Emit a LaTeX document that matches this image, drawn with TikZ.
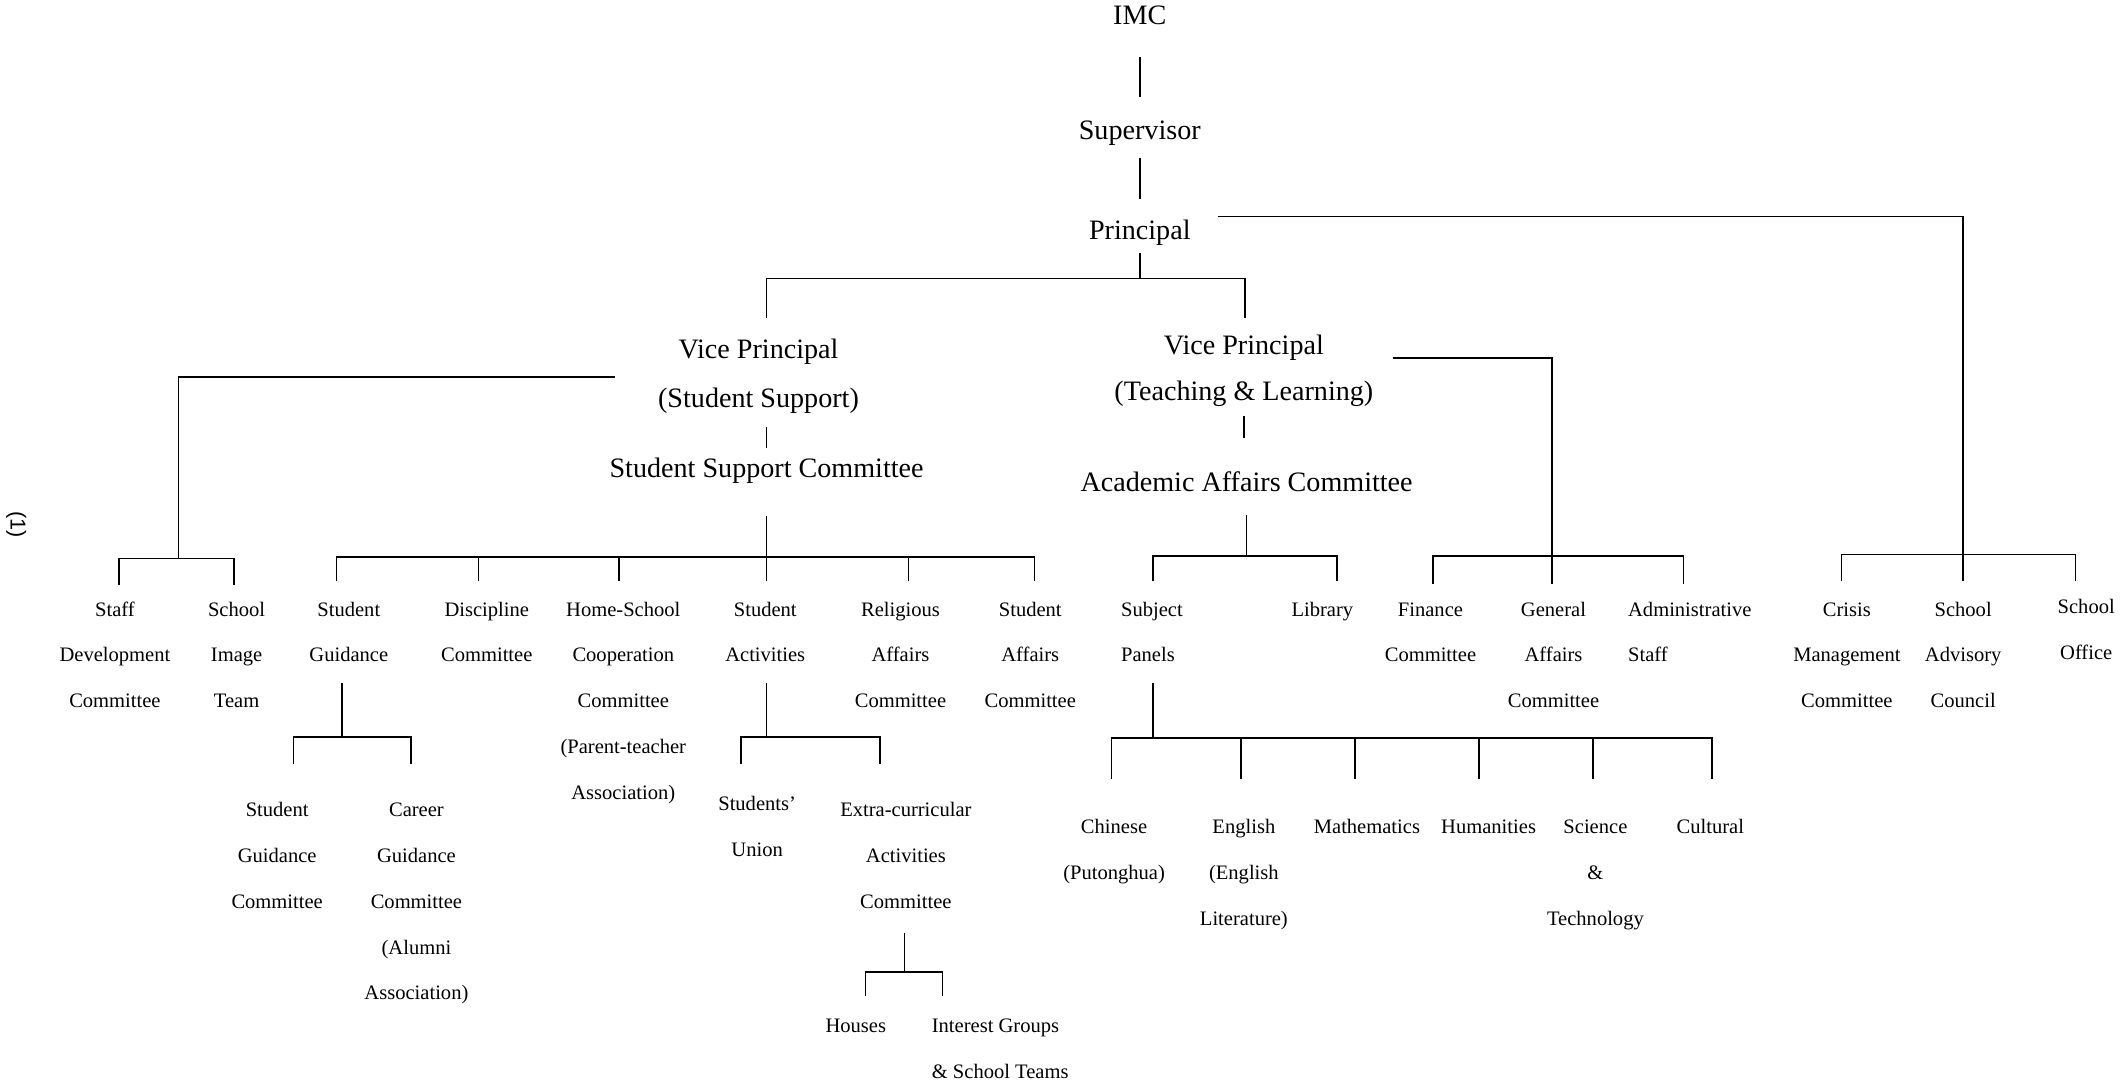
\documentclass[tikz,border=0pt]{standalone}
\usepackage{fontspec}
\setmainfont{Liberation Serif}
\newfontfamily\numfont{Liberation Sans}
\newcommand{\mlc}[1]{\begin{tabular}[t]{@{}c@{}}#1\end{tabular}}
\newcommand{\mll}[1]{\begin{tabular}[t]{@{}l@{}}#1\end{tabular}}
\tikzset{
  big/.style={font=\fontsize{20.8}{36}\selectfont, anchor=base, inner sep=0pt},
  sm/.style={font=\fontsize{15.2}{34}\selectfont, anchor=base, inner sep=0pt},
  smleft/.style={font=\fontsize{15.2}{34}\selectfont, anchor=base west, inner sep=0pt},
  conn/.style={line width=1.2pt},
}
\begin{document}
\begin{tikzpicture}[x=1pt,y=-1pt]
\path[use as bounding box] (0,0) rectangle (1568,804);
% main nodes
\node[big] (imc) at (843,18.2) {IMC};
\node[big] (sup) at (843,103.2) {Supervisor};
\node[big] (pri) at (843,177.2) {Principal};
\node[big] (vpss) at (561,265.2) {\mlc{Vice Principal\\(Student Support)}};
\node[big, font=\fontsize{20.8}{34}\selectfont] (vptl) at (920,262.2) {\mlc{Vice Principal\\(Teaching \& Learning)}};
\node[big] (ssc) at (567,353.2) {Student Support Committee};
\node[big] (aac) at (922,363.2) {Academic Affairs Committee};
% first row
\node[sm] (sdc) at (85,455.6) {\mlc{Staff\\Development\\Committee}};
\node[sm] (sit) at (175,455.6) {\mlc{School\\Image\\Team}};
\node[sm] (sg) at (258,455.6) {\mlc{Student\\Guidance}};
\node[sm] (disc) at (360,455.6) {\mlc{Discipline\\Committee}};
\node[sm] (hsc) at (461,455.6) {\mlc{Home-School\\Cooperation\\Committee\\(Parent-teacher\\Association)}};
\node[sm] (sa) at (566,455.6) {\mlc{Student\\Activities}};
\node[sm] (rac) at (666,455.6) {\mlc{Religious\\Affairs\\Committee}};
\node[sm] (sac) at (762,455.6) {\mlc{Student\\Affairs\\Committee}};
\node[smleft] (sp) at (829,455.6) {\mll{Subject\\Panels}};
\node[sm] (lib) at (978,455.6) {Library};
\node[sm] (fin) at (1058,455.6) {\mlc{Finance\\Committee}};
\node[sm] (gac) at (1149,455.6) {\mlc{General\\Affairs\\Committee}};
\node[smleft] (adm) at (1204,455.6) {\mll{Administrative\\Staff}};
\node[sm] (cmc) at (1366,455.6) {\mlc{Crisis\\Management\\Committee}};
\node[sm] (sadv) at (1452,455.6) {\mlc{School\\Advisory\\Council}};
\node[sm] (soff) at (1543,453.6) {\mlc{School\\Office}};
% second row
\node[sm] (sgc) at (205,603.6) {\mlc{Student\\Guidance\\Committee}};
\node[sm] (cgc) at (308,603.6) {\mlc{Career\\Guidance\\Committee\\(Alumni\\Association)}};
\node[sm] (su) at (560,599.6) {\mlc{Students’\\Union}};
\node[sm] (eca) at (670,603.6) {\mlc{Extra-curricular\\Activities\\Committee}};
\node[sm] (chi) at (824,616.6) {\mlc{Chinese\\(Putonghua)}};
\node[sm] (eng) at (920,616.6) {\mlc{English\\(English\\Literature)}};
\node[sm] (math) at (1011,616.6) {Mathematics};
\node[sm] (hum) at (1101,616.6) {Humanities};
\node[sm] (sci) at (1180,616.6) {\mlc{Science\\\&\\Technology}};
\node[sm] (cul) at (1265,616.6) {Cultural};
% third row
\node[sm] (houses) at (633,763.6) {Houses};
\node[smleft] (igst) at (689,763.6) {\mll{Interest Groups\\\& School Teams}};
% page mark
\node[font=\numfont\fontsize{16}{19}\selectfont, rotate=-90, inner sep=0pt] (pg) at (12,388) {(1)};

% bus coordinates
\coordinate (pbus) at (843,206);
\coordinate (rbus) at (1452,410);
\coordinate (sdbus) at (132,413);
\coordinate (ssbus) at (567,412);
\coordinate (sgbus) at (253,545);
\coordinate (sabus) at (567,545);
\coordinate (ecabus) at (669,719);
\coordinate (aabus) at (922,411);
\coordinate (fgbus) at (1148,411);
\coordinate (spbus) at (853,546);

% top chain
\draw[conn] ([yshift=-23.8pt]imc.base) -- ([yshift=31.2pt]sup.base);
\draw[conn] ([yshift=-13.8pt]sup.base) -- ([yshift=30.2pt]pri.base);
\draw[conn] ([yshift=-9.8pt]pri.base) -- (pbus);
\draw[conn] ([xshift=6pt,yshift=30.2pt]vpss.base) |- (pbus) -| ([xshift=1pt,yshift=27.2pt]vptl.base);
% principal to right group
\draw[conn] ([xshift=58pt,yshift=17.2pt]pri.base) -| (rbus);
\draw[conn] ([xshift=-4pt,yshift=25.6pt]cmc.base) |- (rbus) -| ([xshift=-8pt,yshift=23.6pt]soff.base);
\draw[conn] (rbus) -- ([yshift=25.6pt]sadv.base);
% VP student support left branch
\draw[conn] ([xshift=-106pt,yshift=-13.8pt]vpss.base) -| (sdbus);
\draw[conn] ([xshift=3pt,yshift=22.6pt]sdc.base) |- (sdbus) -| ([xshift=-2pt,yshift=22.6pt]sit.base);
% VP student support to SSC
\draw[conn] ([xshift=6pt,yshift=-50.8pt]vpss.base) -- ([yshift=22.2pt]ssc.base);
\draw[conn] ([yshift=-28.8pt]ssc.base) -- (ssbus);
\draw[conn] ([xshift=-9pt,yshift=25.6pt]sg.base) |- (ssbus) -| ([xshift=3pt,yshift=25.6pt]sac.base);
\draw[conn] ([xshift=-6pt,yshift=25.6pt]disc.base) coordinate (t1) -- (t1 |- ssbus);
\draw[conn] ([xshift=-3pt,yshift=25.6pt]hsc.base) coordinate (t2) -- (t2 |- ssbus);
\draw[conn] ([xshift=1pt,yshift=25.6pt]sa.base) coordinate (t3) -- (t3 |- ssbus);
\draw[conn] ([xshift=6pt,yshift=25.6pt]rac.base) coordinate (t4) -- (t4 |- ssbus);
% student guidance subtree
\draw[conn] ([xshift=-5pt,yshift=-49.4pt]sg.base) -- (sgbus);
\draw[conn] ([xshift=12pt,yshift=38.6pt]sgc.base) |- (sgbus) -| ([xshift=-4pt,yshift=38.6pt]cgc.base);
% student activities subtree
\draw[conn] ([xshift=1pt,yshift=-49.4pt]sa.base) -- (sabus);
\draw[conn] ([xshift=-12pt,yshift=34.6pt]su.base) |- (sabus) -| ([xshift=-19pt,yshift=38.6pt]eca.base);
\draw[conn] ([xshift=-1pt,yshift=-86.4pt]eca.base) -- (ecabus);
\draw[conn] ([xshift=7pt,yshift=26.6pt]houses.base) |- (ecabus) -| ([xshift=8pt,yshift=26.6pt]igst.base west);
% VP teaching & learning
\draw[conn] ([yshift=-45.8pt]vptl.base) -- ([xshift=-2pt,yshift=39.2pt]aac.base);
\draw[conn] ([yshift=-17.8pt]aac.base) -- (aabus);
\draw[conn] ([xshift=24pt,yshift=25.6pt]sp.base west) |- (aabus) -| ([xshift=11pt,yshift=25.6pt]lib.base);
\draw[conn] ([xshift=110pt,yshift=-2.8pt]vptl.base) -| (fgbus);
\draw[conn] ([xshift=2pt,yshift=23.6pt]fin.base) |- (fgbus) -| ([xshift=41pt,yshift=23.6pt]adm.base west);
\draw[conn] (fgbus) -- ([xshift=-1pt,yshift=23.6pt]gac.base);
% subject panels subtree
\draw[conn] ([xshift=24pt,yshift=-49.4pt]sp.base west) -- (spbus);
\draw[conn] ([xshift=-2pt,yshift=40.6pt]chi.base) |- (spbus) -| ([xshift=1pt,yshift=40.6pt]cul.base);
\draw[conn] ([xshift=-2pt,yshift=40.6pt]eng.base) coordinate (u1) -- (u1 |- spbus);
\draw[conn] ([xshift=-9pt,yshift=40.6pt]math.base) coordinate (u2) -- (u2 |- spbus);
\draw[conn] ([xshift=-7pt,yshift=40.6pt]hum.base) coordinate (u3) -- (u3 |- spbus);
\draw[conn] ([xshift=-2pt,yshift=40.6pt]sci.base) coordinate (u4) -- (u4 |- spbus);
\end{tikzpicture}
\end{document}
